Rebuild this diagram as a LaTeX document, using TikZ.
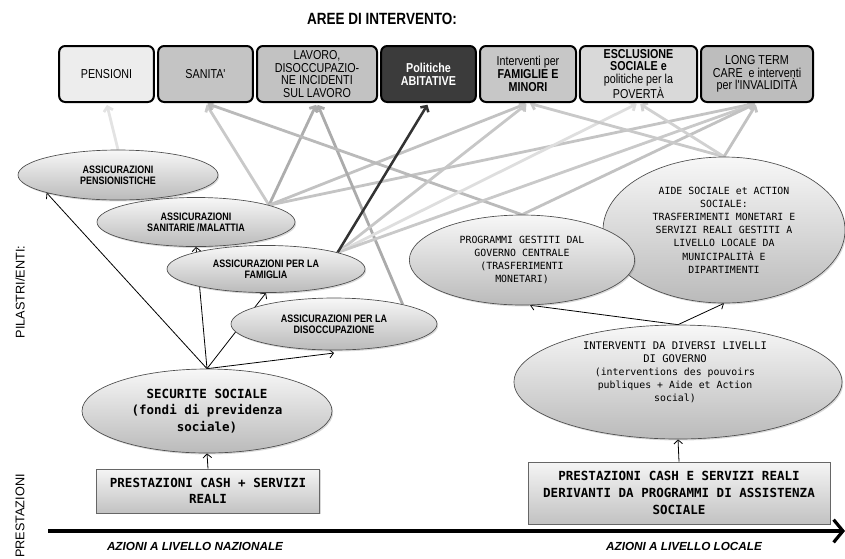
\documentclass[tikz,border=0pt]{standalone}
\usepackage{fontspec}
\setmainfont{Liberation Sans}
\newfontfamily\narrowsf[FakeStretch=0.83]{Liberation Sans}
\newfontfamily\monosf{DejaVu Sans Mono}
\usetikzlibrary{arrows.meta,shapes.geometric,shadows}
\pgfdeclarelayer{links}
\pgfsetlayers{links,main}
\begin{document}
\begin{tikzpicture}[x=0.75pt,y=-0.75pt,
  heading/.style={font=\narrowsf\bfseries\fontsize{12.2}{14}\selectfont},
  area/.style={draw=black, line width=1.5pt, rounded corners=4.5pt,
    minimum height=42pt, align=center, inner sep=1pt,
    font=\narrowsf\fontsize{9.7}{9.5}\selectfont},
  pillar/.style={ellipse, draw=black!70, line width=0.5pt,
    top color=black!3, bottom color=black!27, inner sep=0pt, align=center,
    drop shadow={opacity=0.3, shadow xshift=0.9pt, shadow yshift=-1.1pt}},
  insur/.style={font=\narrowsf\bfseries\fontsize{8.1}{8.1}\selectfont},
  monolbl/.style={font=\monosf\fontsize{7.4}{9.6}\selectfont},
  monobig/.style={font=\monosf\bfseries\fontsize{9.4}{12.5}\selectfont},
  cashbox/.style={rectangle, draw=black!60, line width=0.5pt,
    top color=black!4, bottom color=black!24, align=center, inner sep=0pt,
    drop shadow={opacity=0.3, shadow xshift=0.9pt, shadow yshift=-1.1pt}, monobig},
  blk/.style={draw=black, line width=0.6pt, -{Straight Barb[length=3pt,width=6.5pt]}},
  gry/.style={draw=#1, line width=2.1pt, -{Straight Barb[length=3.2pt,width=7pt]}, shorten >=1.5pt},
  sidelbl/.style={rotate=90, font=\fontsize{9.5}{10}\selectfont},
  axislbl/.style={font=\bfseries\itshape\fontsize{8.8}{10}\selectfont},
]
\useasboundingbox (0,0) rectangle (845,558);

% heading
\node[heading] (ttl) at (382,19) {AREE DI INTERVENTO:};

% areas of intervention
\node[area, fill=black!7,  minimum width=71pt] (a1) at (106.5,74) {PENSIONI};
\node[area, fill=black!23, minimum width=71pt] (a2) at (205.5,74) {SANITA'};
\node[area, fill=black!24, minimum width=90pt] (a3) at (317,74) {LAVORO,\\DISOCCUPAZIO-\\NE INCIDENTI\\SUL LAVORO};
\node[area, fill=black!77, text=white, minimum width=71pt] (a4) at (428.5,74) {\bfseries Politiche\\\bfseries ABITATIVE};
\node[area, fill=black!22, minimum width=72pt] (a5) at (528,74) {Interventi per\\\bfseries FAMIGLIE E\\\bfseries MINORI};
\node[area, fill=black!15, minimum width=88pt] (a6) at (638.5,74) {\bfseries ESCLUSIONE\\\bfseries SOCIALE e\\politiche per la\\POVERTÀ};
\node[area, fill=black!26, minimum width=84pt] (a7) at (757,74) {LONG TERM\\CARE \ e interventi\\per l'INVALIDITÀ};

% national pillars
\node[pillar, insur, minimum width=150pt, minimum height=37.5pt] (pen) at (118,175) {ASSICURAZIONI\\PENSIONISTICHE};
\node[pillar, insur, minimum width=148.5pt, minimum height=36.8pt] (san) at (196,222) {ASSICURAZIONI\\SANITARIE /MALATTIA};
\node[pillar, insur, minimum width=148.5pt, minimum height=35.3pt] (fam) at (266,269) {ASSICURAZIONI PER LA\\FAMIGLIA};
\node[pillar, insur, minimum width=154.5pt, minimum height=39pt] (dis) at (334,324) {ASSICURAZIONI PER LA\\DISOCCUPAZIONE};
\node[pillar, monobig, minimum width=187.5pt, minimum height=63pt] (sec) at (207,411) {SECURITE SOCIALE\\(fondi di previdenza\\sociale)};
\node[cashbox, minimum width=167pt, minimum height=33pt] (bx1) at (208,491) {PRESTAZIONI CASH + SERVIZI\\REALI};

% local pillars
\node[pillar, monolbl, minimum width=181.5pt, minimum height=109.5pt, font=\monosf\fontsize{7.4}{9.9}\selectfont] (aid) at (724,230)
  {AIDE SOCIALE et ACTION\\SOCIALE:\\TRASFERIMENTI MONETARI E\\SERVIZI REALI GESTITI A\\LIVELLO LOCALE DA\\MUNICIPALITÀ E\\DIPARTIMENTI};
\node[pillar, monolbl, minimum width=169pt, minimum height=67.5pt] (prg) at (522,260)
  {PROGRAMMI GESTITI DAL\\GOVERNO CENTRALE\\(TRASFERIMENTI\\MONETARI)};
\node[pillar, minimum width=246pt, minimum height=85.5pt] (int) at (678,382) {};
\node[align=center, font=\monosf\fontsize{7.4}{9.75}\selectfont] (intlbl) at (675,372)
  {{\fontsize{7.9}{9.75}\selectfont INTERVENTI DA DIVERSI LIVELLI}\\{\fontsize{7.9}{9.75}\selectfont DI GOVERNO}\\(interventions des pouvoirs\\publiques + Aide et Action\\social)};
\node[cashbox, minimum width=226.5pt, minimum height=46.5pt] (bx2) at (679,493)
  {PRESTAZIONI CASH E SERVIZI REALI\\DERIVANTI DA PROGRAMMI DI ASSISTENZA\\SOCIALE};

% side labels
\node[sidelbl] (lblpil) at (20,292) {PILASTRI/ENTI:};
\node[sidelbl] (lblpre) at (20,516) {PRESTAZIONI};

% levels axis
\coordinate (axL) at (48,531);
\coordinate (axR) at (845,531);
\draw[line width=2.4pt, -{Straight Barb[length=7pt,width=17pt]}] (axL) -- (axR);
\node[axislbl] (nat) at (195,546) {AZIONI A LIVELLO NAZIONALE};
\node[axislbl] (loc) at (684,546) {AZIONI A LIVELLO LOCALE};

\begin{pgfonlayer}{links}
  % pillars feeding the areas of intervention
  \draw[gry=black!11] (pen.north) -- (a1.south);
  \draw[gry=black!21] (san.13) -- (a2.south);
  \draw[gry=black!32] (san.13) -- (a3.south);
  \draw[gry=black!24] (san.13) -- (a5.south);
  \draw[gry=black!23] (san.13) -- (a7.south);
  \draw[gry=black!33] (dis.16) -- (a3.south);
  \draw[gry=black!27] (prg.north) -- (a2.south);
  \draw[gry=black!22] (fam.13) -- (a5.south);
  \draw[gry=black!13] (fam.13) -- (a6.south);
  \draw[gry=black!21] (fam.13) -- (a7.south);
  \draw[gry=black!80, line width=1.9pt] (fam.13) -- (a4.south);
  \draw[gry=black!24] (prg.north) -- (a7.south);
  \draw[gry=black!21] (aid.north) -- (a5.south);
  \draw[gry=black!18] (aid.north) -- (a6.south);
  \draw[gry=black!24] (aid.north) -- (a7.south);

  % social security branches
  \draw[blk] (sec.north) -- (pen.194);
  \draw[blk] (sec.north) -- (san.south);
  \draw[blk] (sec.north) -- (fam.south);
  \draw[blk] (sec.north) -- ([yshift=-2pt]dis.south);
  \draw[blk] (bx1.north) -- (sec.south);

  % local levels
  \draw[blk] (int.north) -- (prg.-80);
  \draw[blk] (int.north) -- (aid.south);
  \draw[blk] (bx2.north) -- (int.south);
\end{pgfonlayer}
\end{tikzpicture}
\end{document}
